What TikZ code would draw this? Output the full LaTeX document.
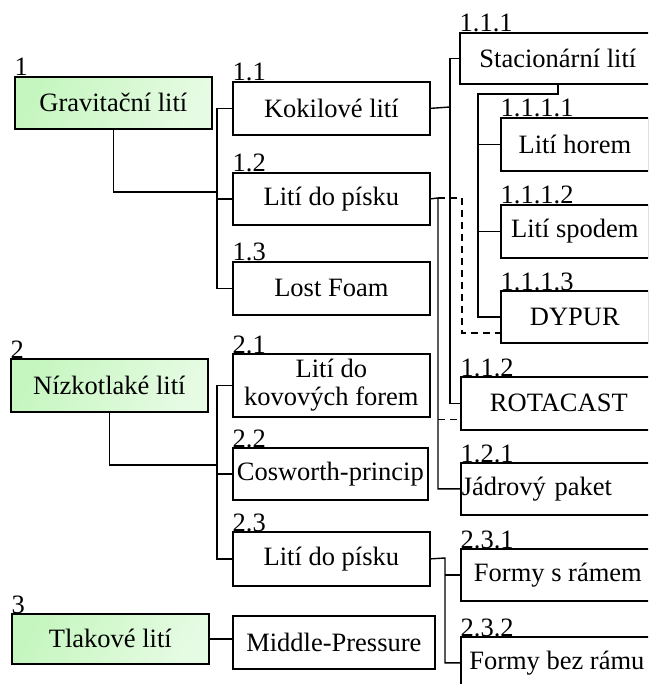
\documentclass[tikz,border=0pt]{standalone}
\usepackage{fontspec}
\setmainfont{Liberation Serif}
\definecolor{lightgreen}{RGB}{198,246,192}

\begin{document}
\begin{tikzpicture}[x=1pt,y=-1pt,line width=1.4pt,
    font=\fontsize{26.5}{28}\selectfont,
    box/.style={draw,line width=1.7pt,anchor=north west,align=center,inner sep=1pt},
    topbox/.style={box,left color=lightgreen,right color=white!55!lightgreen,shading angle=60},
    num/.style={anchor=base west,inner sep=0pt},
    dashline/.style={dash pattern=on 7pt off 5pt}]
  \useasboundingbox (0,0) rectangle (648,684);
  \clip (0,0) rectangle (648,684);

  % main groups
  \node (grav) at (14,76) [topbox,minimum width=197pt,minimum height=52pt] {Gravitační lití};
  \node (nizko) at (10,358) [topbox,minimum width=197pt,minimum height=53pt] {Nízkotlaké lití};
  \node (tlak) at (11,613) [topbox,minimum width=197pt,minimum height=50pt] {Tlakové lití};

  % second level
  \node (kokil) at (232,81) [box,minimum width=197pt,minimum height=53pt] {Kokilové lití};
  \node (pisek1) at (232,172) [box,minimum width=197pt,minimum height=52pt] {Lití do písku};
  \node (lost) at (232,261) [box,minimum width=197pt,minimum height=53pt] {Lost Foam};
  \node (kovove) at (232,353) [box,minimum width=197pt,minimum height=63pt] {Lití do\\kovových forem};
  \node (cosw) at (232,447) [box,minimum width=195pt,minimum height=52pt] {Cosworth-princip};
  \node (pisek2) at (232,531) [box,minimum width=197pt,minimum height=54pt] {Lití do písku};
  \node (middle) at (232,615) [box,minimum width=202pt,minimum height=53pt] {Middle-Pressure};

  % third and fourth level
  \node (stac) at (459,32) [box,minimum width=196pt,minimum height=51pt] {Stacionární lití};
  \node (horem) at (500,117) [box,minimum width=148pt,minimum height=53pt] {Lití horem};
  \node (spodem) at (500,204) [box,minimum width=148pt,minimum height=53pt] {Lití spodem};
  \node (dypur) at (500,290) [box,minimum width=148pt,minimum height=52pt] {DYPUR};
  \node (rota) at (460,376) [box,minimum width=196pt,minimum height=53pt] {ROTACAST};
  \node (jadro) at (460,462) [box,text width=192pt,align=left,minimum height=52pt] {Jádrový paket};
  \node (ramem) at (460,548) [box,minimum width=194pt,minimum height=52pt] {Formy s rámem};
  \node (bezramu) at (460,636) [box,minimum width=192pt,minimum height=52pt] {Formy bez rámu};

  % numbers
  \node (n1) at (grav.north west) [num] {1};
  \node (n2) at (nizko.north west) [num] {2};
  \node (n3) at (tlak.north west) [num] {3};
  \node (n11) at (kokil.north west) [num] {1.1};
  \node (n12) at (pisek1.north west) [num] {1.2};
  \node (n13) at (lost.north west) [num] {1.3};
  \node (n21) at (kovove.north west) [num] {2.1};
  \node (n22) at (cosw.north west) [num] {2.2};
  \node (n23) at (pisek2.north west) [num] {2.3};
  \node (n111) at (stac.north west) [num] {1.1.1};
  \node (n1111) at (horem.north west) [num] {1.1.1.1};
  \node (n1112) at (spodem.north west) [num] {1.1.1.2};
  \node (n1113) at (dypur.north west) [num] {1.1.1.3};
  \node (n112) at (rota.north west) [num] {1.1.2};
  \node (n121) at (jadro.north west) [num] {1.2.1};
  \node (n231) at (ramem.north west) [num] {2.3.1};
  \node (n232) at (bezramu.north west) [num] {2.3.2};

  % connectors
  \coordinate (bus1) at (217,192);
  \coordinate (bus2) at (217,465);
  \coordinate (bus3) at (450,107);
  \coordinate (bus4) at (478,94);
  \coordinate (bus5) at (438,198);
  \coordinate (bus6) at (445,558);
  \coordinate (d1) at (462,198);

  \draw (grav.south) |- (bus1);
  \draw (kokil.west) -| (bus1) |- (lost.west);
  \draw (pisek1.west) -- (pisek1.west -| bus1);

  \draw (nizko.south) |- (bus2);
  \draw (kovove.west) -| (bus2) |- (pisek2.west);
  \draw (cosw.west) -- (cosw.west -| bus2);
  \draw (tlak.east) -- (tlak.east -| middle.west);

  \draw (kokil.east) -- (bus3);
  \draw (stac.west) -| (bus3) |- (rota.west);
  \draw (stac.south) |- (bus4) |- (dypur.west);
  \draw (horem.west) -- (horem.west -| bus4);
  \draw (spodem.west) -- (spodem.west -| bus4);

  \draw (pisek1.east) -- (bus5) |- (jadro.west);
  \draw[dashline] (bus5) -- (d1) |- ([yshift=-16pt]dypur.west);
  \draw[dashline] ([yshift=-16pt]rota.west -| bus5) -- ([yshift=-16pt]rota.west);

  \draw (pisek2.east) -- (bus6) |- (bezramu.west);
  \draw (ramem.west) -- (ramem.west -| bus6);
\end{tikzpicture}
\end{document}
